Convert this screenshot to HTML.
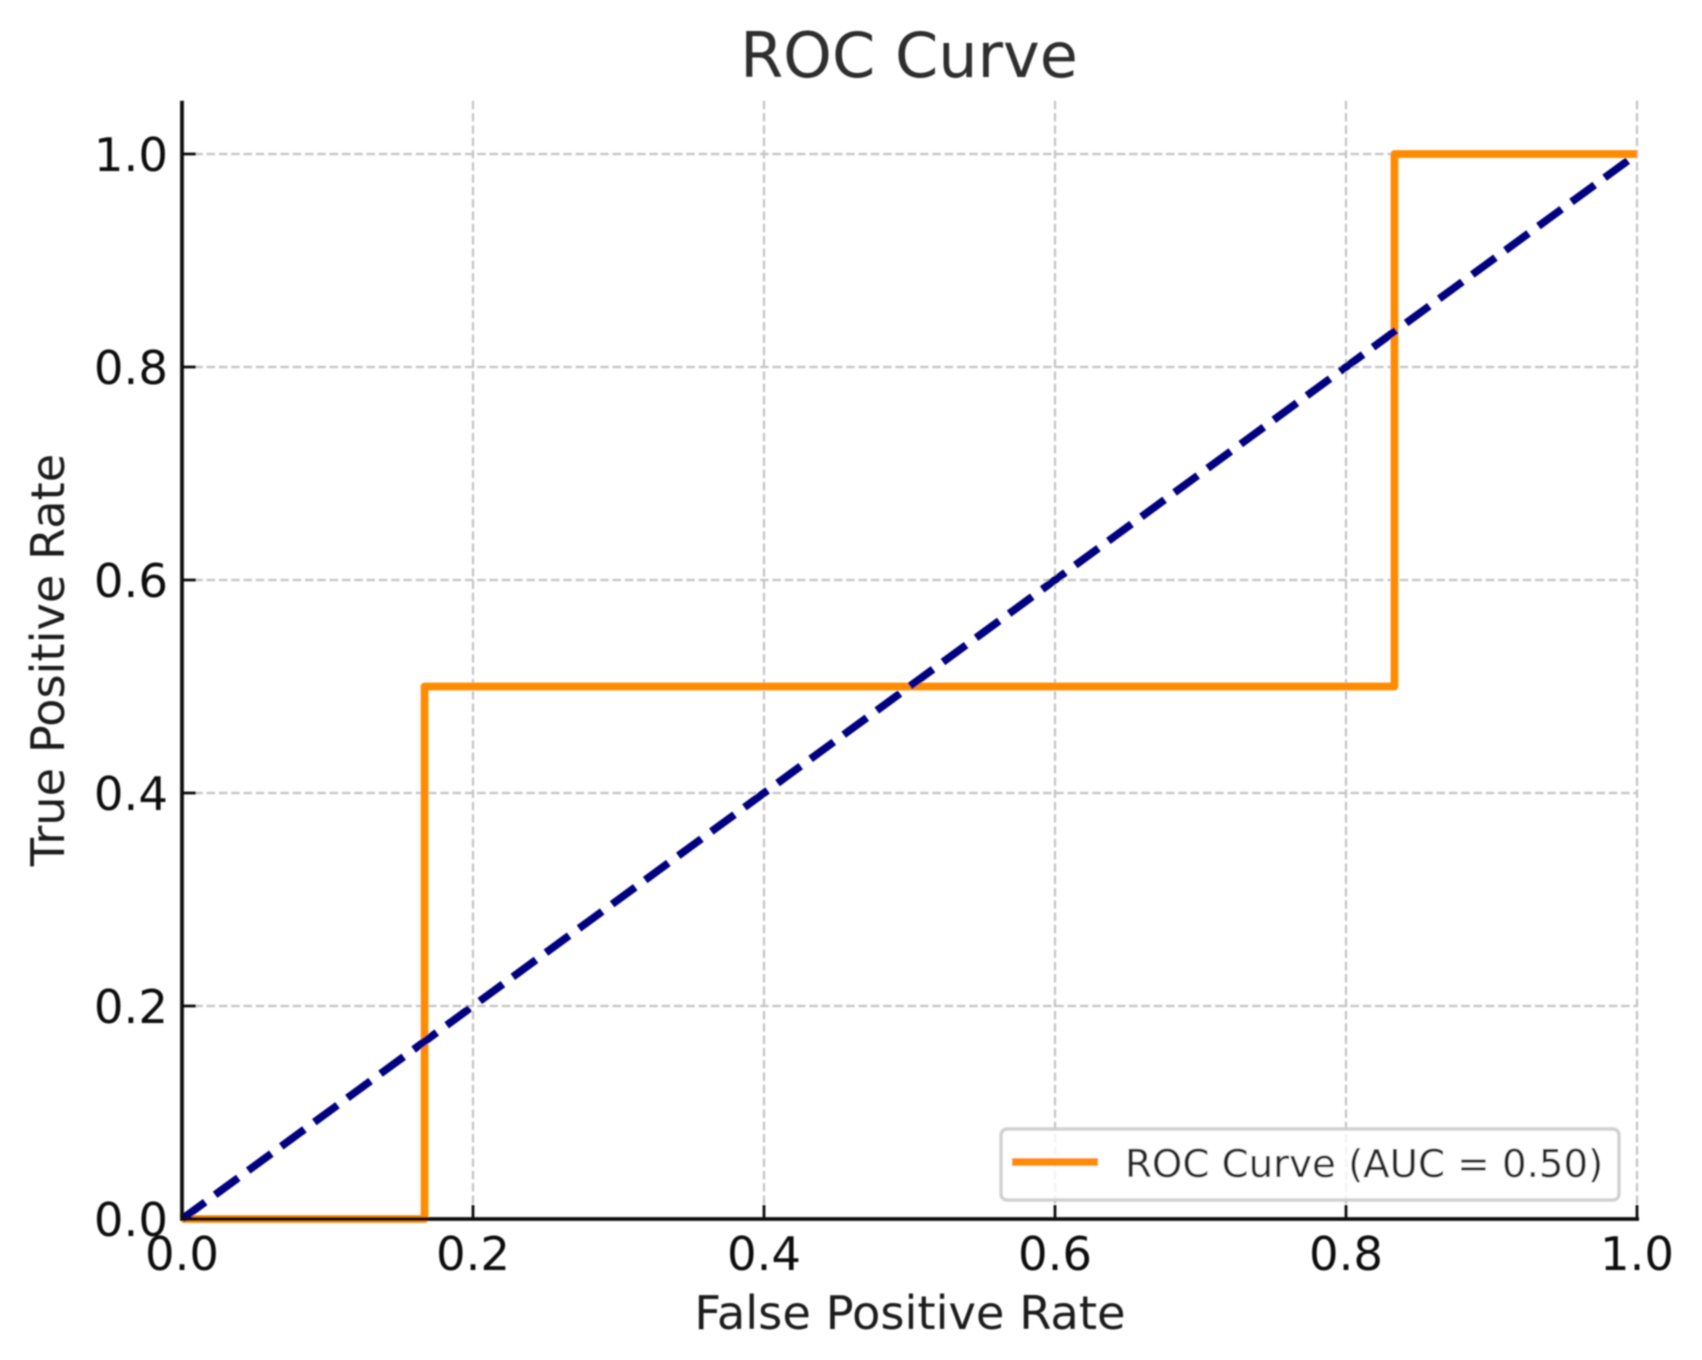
<!DOCTYPE html>
<html lang="en">
<head>
<meta charset="utf-8">
<title>ROC Curve</title>
<style>
html,body{margin:0;padding:0;background:#fff;}
svg{display:block;}
text{font-family:"DejaVu Sans","Liberation Sans",sans-serif;}
</style>
</head>
<body>
<svg id="chart" xmlns="http://www.w3.org/2000/svg" width="1702" height="1360" viewBox="0 0 1702 1360">
  <defs>
    <filter id="soft" x="-2%" y="-2%" width="104%" height="104%"><feGaussianBlur stdDeviation="0.75"/></filter>
  </defs>
  <rect width="1702" height="1360" fill="#fff"/>
  <g id="root" filter="url(#soft)">
    <text x="909" y="77" text-anchor="middle" font-size="62" fill="#2e2e2e">ROC Curve</text>
    <g id="grid"></g>
    <g id="series"></g>
    <g id="axes"></g>
    <text x="910" y="1329" text-anchor="middle" font-size="46.4" fill="#1a1a1a">False Positive Rate</text>
    <text transform="translate(64 660) rotate(-90)" text-anchor="middle" font-size="46.3" fill="#1a1a1a">True Positive Rate</text>
    <g>
      <rect x="1001" y="1129" width="618" height="71" rx="6" fill="#fff" fill-opacity="0.8" stroke="#ccc" stroke-opacity="0.9" stroke-width="3.4"/>
      <line x1="1012" y1="1162" x2="1098" y2="1162" stroke="#ff8c00" stroke-width="7.7"/>
      <text x="1125" y="1177" font-size="38.7" fill="#262626">ROC Curve (AUC = 0.50)</text>
    </g>
  </g>
</svg>
<script>
const rocFpr = [0, 0.1667, 0.1667, 0.8333, 0.8333, 1];
const rocTpr = [0, 0, 0.5, 0.5, 1, 1];
const chanceFpr = [0, 1];
const chanceTpr = [0, 1];
const xTicks = [0, 0.2, 0.4, 0.6, 0.8, 1];
const yTicks = [0, 0.2, 0.4, 0.6, 0.8, 1];
const xTickLabels = ['0.0', '0.2', '0.4', '0.6', '0.8', '1.0'];
const yTickLabels = ['0.0', '0.2', '0.4', '0.6', '0.8', '1.0'];

const NS = 'http://www.w3.org/2000/svg';
const plotLeft = 182, plotRight = 1637, plotBottom = 1219, plotTop100 = 154;
const yLimitMax = 1.05;
function xScale(v) { return plotLeft + v * (plotRight - plotLeft); }
function yScale(v) { return plotBottom - v * (plotBottom - plotTop100); }
function make(tag, attrs, parent) {
  const el = document.createElementNS(NS, tag);
  for (const k in attrs) el.setAttribute(k, attrs[k]);
  parent.appendChild(el);
  return el;
}
function pathFrom(xs, ys) {
  return xs.map(function (x, i) {
    return (i ? 'L' : 'M') + xScale(x).toFixed(2) + ' ' + yScale(ys[i]).toFixed(2);
  }).join(' ');
}

const gridG = document.getElementById('grid');
const seriesG = document.getElementById('series');
const axesG = document.getElementById('axes');
const topY = yScale(yLimitMax);

xTicks.forEach(function (t) {
  if (t === 0) return;
  const l = make('line', { x1: xScale(t), x2: xScale(t), y1: topY, y2: plotBottom, stroke: '#c4c4c4', 'stroke-width': 2.2, 'stroke-dasharray': '8.5 3.8' }, gridG);
  
  
});
yTicks.forEach(function (t) {
  if (t === 0) return;
  const l = make('line', { x1: plotLeft, x2: plotRight, y1: yScale(t), y2: yScale(t), stroke: '#c4c4c4', 'stroke-width': 2.2, 'stroke-dasharray': '8.5 3.8' }, gridG);
  
  
});

const rocPath = make('path', { d: pathFrom(rocFpr, rocTpr), fill: 'none', stroke: '#ff8c00', 'stroke-width': 7.7, 'stroke-linejoin': 'round' }, seriesG);



const chancePath = make('path', { d: pathFrom(chanceFpr, chanceTpr), fill: 'none', stroke: '#000080', 'stroke-width': 7.7, 'stroke-dasharray': '28.7 12.3' }, seriesG);



const leftSpine = make('line', { x1: plotLeft, x2: plotLeft, y1: topY, y2: plotBottom + 2, stroke: '#111', 'stroke-width': 3.8 }, axesG);


const bottomSpine = make('line', { x1: plotLeft, x2: plotRight + 2, y1: plotBottom, y2: plotBottom, stroke: '#111', 'stroke-width': 3.8 }, axesG);



xTicks.forEach(function (t, i) {
  const m = make('line', { x1: xScale(t), x2: xScale(t), y1: plotBottom, y2: plotBottom - 14, stroke: '#111', 'stroke-width': 2.8 }, axesG);
  
  
  const lbl = make('text', { x: xScale(t), y: 1270, 'text-anchor': 'middle', 'font-size': 46.6, fill: '#111' }, axesG);
  
  
  lbl.textContent = xTickLabels[i];
});
yTicks.forEach(function (t, i) {
  const m = make('line', { x1: plotLeft, x2: plotLeft + 14, y1: yScale(t), y2: yScale(t), stroke: '#111', 'stroke-width': 2.8 }, axesG);
  
  
  const lbl = make('text', { x: 168, y: yScale(t) + 17, 'text-anchor': 'end', 'font-size': 46.6, fill: '#111' }, axesG);
  
  
  lbl.textContent = yTickLabels[i];
});
</script>
</body>
</html>
